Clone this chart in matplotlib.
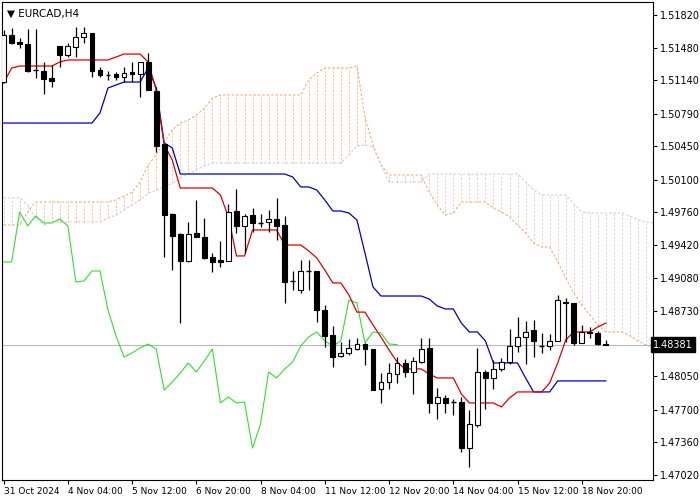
import matplotlib.pyplot as plt
import numpy as np

# EURCAD H4 candles
opens = [1.51121, 1.51612, 1.51539, 1.51518, 1.51247, 1.51236, 1.51163, 1.51497, 1.51403, 1.51487,
         1.51591, 1.51633, 1.51247, 1.51194, 1.51205, 1.51174, 1.51226, 1.51205, 1.51330, 1.51027,
         1.50474, 1.49744, 1.49535, 1.49253, 1.49546, 1.49504, 1.49295, 1.49264, 1.49253, 1.49775,
         1.49619, 1.49733, 1.49650, 1.49660, 1.49692, 1.49629, 1.49045, 1.48951, 1.49149, 1.49149,
         1.48742, 1.48481, 1.48262, 1.48294, 1.48335, 1.48387, 1.48335, 1.47918, 1.47991, 1.48074,
         1.48189, 1.48095, 1.48200, 1.48346, 1.47772, 1.47824, 1.47782, 1.47782, 1.47302, 1.47542,
         1.48095, 1.48033, 1.48127, 1.48200, 1.48367, 1.48460, 1.48533, 1.48367, 1.48367, 1.48419,
         1.48826, 1.48815, 1.48398, 1.48513, 1.48502, 1.48387]
highs = [1.51664, 1.51685, 1.51580, 1.51674, 1.51674, 1.51330, 1.51299, 1.51497, 1.51528, 1.51695,
         1.51695, 1.51633, 1.51278, 1.51236, 1.51226, 1.51278, 1.51330, 1.51330, 1.51424, 1.51069,
         1.50474, 1.49754, 1.49546, 1.49660, 1.49890, 1.49702, 1.49337, 1.49462, 1.49848, 1.50005,
         1.49744, 1.49806, 1.49744, 1.49786, 1.49911, 1.49723, 1.49149, 1.49264, 1.49264, 1.49149,
         1.48794, 1.48575, 1.48408, 1.48439, 1.48450, 1.48398, 1.48335, 1.48085, 1.48189, 1.48252,
         1.48231, 1.48252, 1.48450, 1.48450, 1.47928, 1.47855, 1.47813, 1.47834, 1.47699, 1.48346,
         1.48116, 1.48221, 1.48241, 1.48544, 1.48669, 1.48627, 1.48637, 1.48502, 1.48492, 1.48899,
         1.48867, 1.48815, 1.48586, 1.48565, 1.48523, 1.48429]
lows = [1.51111, 1.51518, 1.51476, 1.51226, 1.51163, 1.50996, 1.51069, 1.51278, 1.51382, 1.51382,
        1.51528, 1.51174, 1.51174, 1.51142, 1.51142, 1.51121, 1.51121, 1.50965, 1.51038, 1.50391,
        1.49295, 1.49159, 1.48606, 1.49243, 1.49504, 1.49274, 1.49138, 1.49191, 1.49253, 1.49546,
        1.49337, 1.49556, 1.49608, 1.49556, 1.49473, 1.48815, 1.48951, 1.48920, 1.48951, 1.48617,
        1.48356, 1.48147, 1.48252, 1.48273, 1.48325, 1.48168, 1.47907, 1.47772, 1.47918, 1.47980,
        1.48043, 1.47866, 1.48189, 1.47668, 1.47605, 1.47668, 1.47647, 1.47261, 1.47104, 1.47521,
        1.47709, 1.47918, 1.48106, 1.48179, 1.48304, 1.48179, 1.48252, 1.48294, 1.48325, 1.48419,
        1.48408, 1.48377, 1.48398, 1.48450, 1.48377, 1.48377]
closes = [1.51612, 1.51528, 1.51518, 1.51236, 1.51247, 1.51153, 1.51132, 1.51403, 1.51497, 1.51591,
          1.51633, 1.51236, 1.51194, 1.51194, 1.51174, 1.51215, 1.51205, 1.51330, 1.51038, 1.50453,
          1.49733, 1.49514, 1.49253, 1.49535, 1.49504, 1.49285, 1.49243, 1.49243, 1.49765, 1.49619,
          1.49723, 1.49650, 1.49650, 1.49692, 1.49619, 1.49034, 1.49045, 1.49149, 1.49149, 1.48742,
          1.48471, 1.48252, 1.48294, 1.48346, 1.48387, 1.48335, 1.47907, 1.47991, 1.48085, 1.48189,
          1.48095, 1.48210, 1.48335, 1.47772, 1.47834, 1.47772, 1.47782, 1.47302, 1.47553, 1.48095,
          1.48033, 1.48127, 1.48200, 1.48367, 1.48460, 1.48513, 1.48419, 1.48367, 1.48419, 1.48846,
          1.48815, 1.48398, 1.48513, 1.48502, 1.48387, 1.48381]

tenkan = ([1.51111, 1.51267] + [1.51288] * 5 + [1.51330] + [1.51351] * 6 + [1.51382] + [1.51413] * 3
          + [1.51330, 1.51038, 1.50464, 1.50307] + [1.50015] * 5 + [1.49942, 1.49713] + [1.49306] * 2
          + [1.49577] * 4 + [1.49420] * 3 + [1.49358, 1.49285, 1.49159] + [1.49024] * 2 + [1.48899]
          + [1.48720] * 2 + [1.48585, 1.48460, 1.48325, 1.48200] + [1.48127] * 3 + [1.48074]
          + [1.48033] * 3 + [1.47866] + [1.47772] * 4 + [1.47730, 1.47824] + [1.47887] * 4
          + [1.47980, 1.48189, 1.48429] + [1.48513] * 3 + [1.48565, 1.48606])
kijun = ([1.50693] * 12 + [1.50798, 1.51059, 1.51090] + [1.51121] * 3 + [1.51267, 1.51059, 1.50485, 1.50433]
         + [1.50161] * 14 + [1.50130] + [1.50026] * 2 + [1.49994, 1.49890] + [1.49775] * 2
         + [1.49754, 1.49681, 1.49337, 1.48982] + [1.48888] * 6 + [1.48857, 1.48784] + [1.48753] * 2
         + [1.48606] + [1.48513] * 2 + [1.48419] + [1.48189] * 4 + [1.48033] + [1.47887] * 3
         + [1.48002] * 7)
span_a = ([1.49629] * 3 + [1.49765] + [1.49869] * 10 + [1.49890, 1.49932, 1.49973, 1.50078, 1.50255,
          1.50360, 1.50495, 1.50621, 1.50693, 1.50725, 1.50777, 1.50847, 1.50951] + [1.50986] * 11
          + [1.51142, 1.51215] + [1.51267] * 4 + [1.51288, 1.50756, 1.50464, 1.50255] + [1.50151] * 5
          + [1.49973, 1.49838, 1.49733, 1.49754] + [1.49869] * 4 + [1.49806, 1.49765, 1.49713, 1.49629,
          1.49546, 1.49441] + [1.49400] * 2 + [1.49243, 1.49076, 1.48920, 1.48794, 1.48690, 1.48586]
          + [1.48513] * 3 + [1.48471, 1.48419, 1.48377, 1.48356])
span_b = ([1.49911] * 3 + [1.49838, 1.49702, 1.49629] + [1.49660] * 7 + [1.49702, 1.49733, 1.49786,
          1.49838, 1.49890, 1.49963, 1.49994, 1.50026, 1.50067, 1.50120, 1.50161, 1.50203, 1.50245]
          + [1.50276] * 17 + [1.50360, 1.50453, 1.50464, 1.50443, 1.50255] + [1.50078] * 5
          + [1.50161] * 12 + [1.50078, 1.49994] + [1.49942] * 4 + [1.49848, 1.49765] + [1.49754] * 5
          + [1.49723, 1.49681, 1.49660, 1.49650])

date_labels = ["31 Oct 2024", "4 Nov 04:00", "5 Nov 12:00", "6 Nov 20:00", "8 Nov 04:00",
               "11 Nov 12:00", "12 Nov 20:00", "14 Nov 04:00", "15 Nov 12:00", "18 Nov 20:00"]
price_ticks = [1.51820, 1.51480, 1.51140, 1.50790, 1.50450, 1.50100, 1.49760, 1.49420,
               1.49080, 1.48730, 1.48050, 1.47700, 1.47360, 1.47020]
last_price = 1.48381

fig = plt.figure(figsize=(7, 5), dpi=100)
ax = fig.add_axes([2 / 700, 20 / 500, 651 / 700, 478 / 500])

idx = np.arange(len(closes))
cidx = np.arange(len(span_a))
a = np.array(span_a)
b = np.array(span_b)

# cloud: thin dashed hatching, one stroke per bar
for i in cidx:
    col = "#f2b98a" if a[i] >= b[i] else "#d9c6d9"
    ax.vlines(i, min(a[i], b[i]), max(a[i], b[i]), colors=col, linestyles=(0, (2.5, 2)), lw=0.6, zorder=1)
ax.plot(cidx, a, color="#F4A460", ls=(0, (2.5, 2)), lw=0.7, zorder=1)
ax.plot(cidx, b, color="#D8BFD8", ls=(0, (2.5, 2)), lw=0.7, zorder=1)

ax.axhline(last_price, color="#b8b8b8", lw=0.8, zorder=1)

# chikou span = close moved back 26 bars
ax.plot(idx[:len(closes) - 26], closes[26:], color="#33dd33", lw=0.8, zorder=2)
ax.plot(idx, kijun, color="#0000bb", lw=0.9, zorder=2)
ax.plot(idx, tenkan, color="#dd0000", lw=0.9, zorder=2)

for i in idx:
    o, h, l, c = opens[i], highs[i], lows[i], closes[i]
    ax.vlines(i, l, h, color="black", lw=0.9, zorder=3)
    lo, hi = min(o, c), max(o, c)
    if hi - lo < 0.00004:
        ax.hlines(o, i - 0.3, i + 0.3, color="black", lw=1, zorder=4)
    else:
        ax.bar(i, hi - lo, bottom=lo, width=0.6, color="white" if c > o else "black",
               edgecolor="black", lw=0.8, zorder=4)

ax.set_xlim(-0.2, 80.87)
ax.set_ylim(1.46968, 1.51956)

ax.yaxis.tick_right()
ax.set_yticks(price_ticks)
ax.set_yticklabels([f"{p:.5f}" for p in price_ticks], fontsize=7)
ax.set_xticks(np.arange(0, 80, 8))
ax.set_xticklabels(date_labels, fontsize=6.5, ha="left")
ax.tick_params(length=3, width=0.8, pad=2)
for s in ax.spines.values():
    s.set_linewidth(0.8)

ax.text(1.0, last_price, f"{last_price:.5f}", transform=ax.get_yaxis_transform(), fontsize=7,
        color="white", va="center", ha="left",
        bbox=dict(boxstyle="square,pad=0.25", fc="black", ec="black"))
ax.text(0.008, 0.985, "▼ EURCAD,H4", transform=ax.transAxes, fontsize=7.5, va="top")

plt.savefig("out.png", dpi=100)
